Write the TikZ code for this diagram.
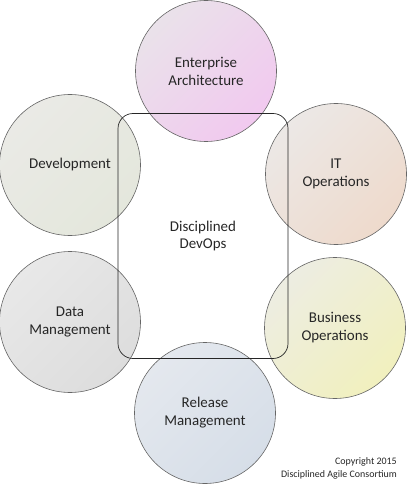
\documentclass[tikz,border=0pt]{standalone}
\usepackage{fontspec}
\setmainfont{Carlito}
\usetikzlibrary{positioning}

\definecolor{eaLight}{HTML}{EAE2EA}
\definecolor{eaDark}{HTML}{F1C9EF}
\definecolor{devLight}{HTML}{EAEAE6}
\definecolor{devDark}{HTML}{E4E7DC}
\definecolor{itLight}{HTML}{ECE8E6}
\definecolor{itDark}{HTML}{EEDACC}
\definecolor{busLight}{HTML}{EDEDE2}
\definecolor{busDark}{HTML}{F1F0BE}
\definecolor{dataLight}{HTML}{E8E8E8}
\definecolor{dataDark}{HTML}{DDDDDD}
\definecolor{relLight}{HTML}{E4E8EE}
\definecolor{relDark}{HTML}{D6DEE8}

\begin{document}
\begin{tikzpicture}[x=1bp,y=-1bp]
  \tikzset{area/.style = {circle, draw=black!60, line width=0.6bp,
                          minimum size=141bp, align=center, text=black!85,
                          font=\fontsize{15}{18}\selectfont}}
  \tikzset{tint/.style 2 args = {top color=#1, bottom color=#2,
                                 shading angle=45}}
  \tikzset{hub/.style  = {draw=black!85, line width=0.7bp, rounded corners=15bp,
                          minimum width=170bp, minimum height=245bp,
                          align=center, text=black!85,
                          font=\fontsize{15}{18}\selectfont}}
  \useasboundingbox (0,0) rectangle (408,485);
  % the six areas round the middle
  \node[area, tint={eaLight}{eaDark}]     (ea)     at (206,71)  {Enterprise\\Architecture};
  \node[area, tint={devLight}{devDark}]   (dev)    at (70,165)  {Development};
  \node[area, tint={itLight}{itDark}]     (itops)  at (336,174) {IT\\Operations};
  \node[area, tint={busLight}{busDark}]   (busops) at (335,328) {Business\\Operations};
  \node[area, tint={dataLight}{dataDark}] (data)   at (70,322)  {Data\\Management};
  \node[area, tint={relLight}{relDark}]   (rel)    at (205,413) {Release\\Management};
  % the middle, drawn over the circles
  \node[hub] (devops) at (203,236) {Disciplined\\DevOps};
  \node[align=right, anchor=south east, inner sep=0pt, text=black!85,
        font=\fontsize{10}{13}\selectfont] (copy) at (397,479)
        {Copyright 2015\\Disciplined Agile Consortium};
\end{tikzpicture}
\end{document}
